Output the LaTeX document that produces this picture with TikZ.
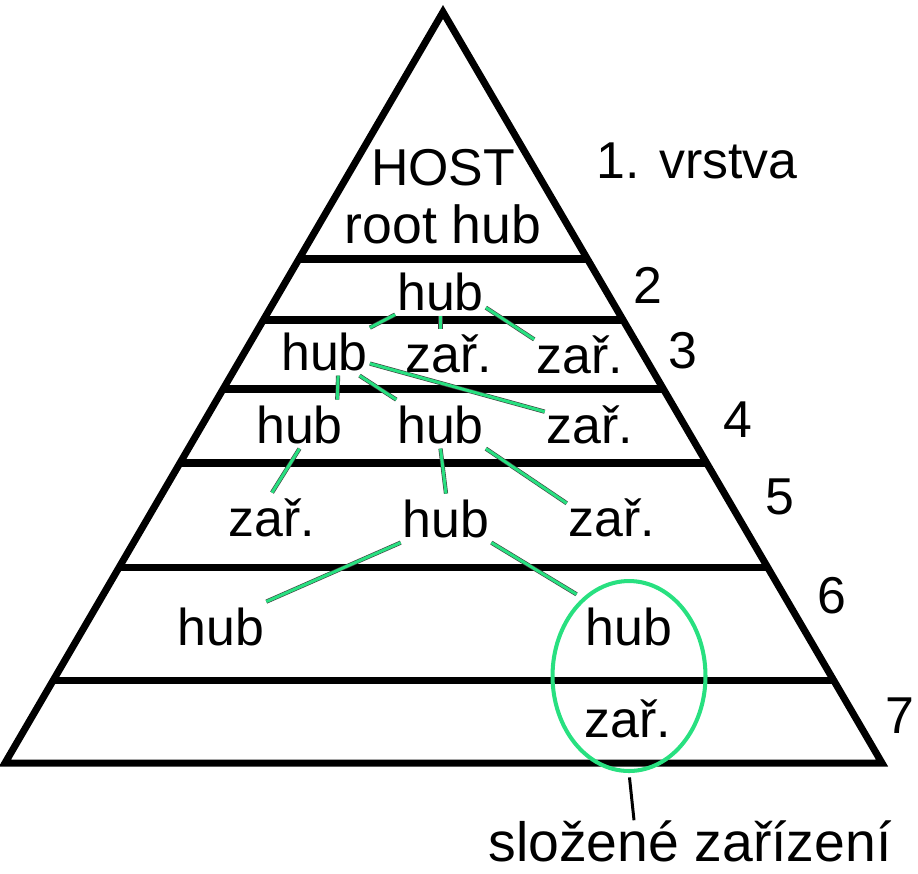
\documentclass[tikz,border=0pt]{standalone}
\usepackage{fontspec}
\setmainfont{Liberation Sans}
\usetikzlibrary{calc}
\usetikzlibrary{shapes.geometric}
\definecolor{linkgreen}{RGB}{40,224,128}
\tikzstyle{lbl} = [anchor=base, inner xsep=1pt, inner ysep=3pt, text height=21.5pt, text depth=0pt, font=\fontsize{29.5}{35}\selectfont]
\tikzstyle{layerline} = [line width=4pt]
\tikzstyle{link} = [draw=black!75, line width=0.35pt, double=linkgreen, double distance=1.7pt]
\tikzstyle{combonode} = [draw=linkgreen, line width=2.3pt, ellipse, minimum width=3.06cm, minimum height=3.8cm]
\tikzstyle{pointer} = [line width=1.7pt, shorten <=2.5pt]

\begin{document}
\begin{tikzpicture}[x=0.02cm, y=-0.02cm]
  \useasboundingbox (0,0) rectangle (918,873);

  % pyramid
  \coordinate (apex) at (443,12);
  \coordinate (bl) at (5,763);
  \coordinate (br) at (882,763);
  \draw[layerline] (apex) -- (bl) -- (br) -- cycle;
  \foreach \y in {259,320,389,463,567,680} {
    \pgfmathsetmacro{\tpos}{(\y-12)/751}
    \draw[layerline] ($(apex)!\tpos!(bl)$) -- ($(apex)!\tpos!(br)$);
  }

  % layer numbers
  \node[lbl] (n1) at (697,178) {1. vrstva};
  \node[lbl] (n2) at (648,303) {2};
  \node[lbl] (n3) at (683,368) {3};
  \node[lbl] (n4) at (738,437) {4};
  \node[lbl] (n5) at (780,514) {5};
  \node[lbl] (n6) at (832,613) {6};
  \node[lbl] (n7) at (900,733) {7};

  % devices
  \node[lbl] (host) at (443,185) {HOST};
  \node[lbl, font=\fontsize{30.5}{35}\selectfont] (root) at (443,243) {root hub};
  \node[lbl] (h2) at (440.5,310) {hub};
  \node[lbl] (h3a) at (324.5,370) {hub};
  \node[lbl] (z3b) at (448.5,372) {zař.};
  \node[lbl] (z3c) at (579.5,373) {zař.};
  \node[lbl] (h4a) at (299.5,443) {hub};
  \node[lbl] (h4b) at (440.5,443) {hub};
  \node[lbl] (z4c) at (590,443) {zař.};
  \node[lbl] (z5a) at (272,536) {zař.};
  \node[lbl] (h5b) at (446,537) {hub};
  \node[lbl] (z5c) at (612,536) {zař.};
  \node[lbl] (h6a) at (221,645) {hub};
  \node[lbl] (h6b) at (629,645) {hub};
  \node[lbl] (z7) at (628,737) {zař.};

  \node[combonode] (combo) at (629,676) {};
  \node[lbl, inner ysep=0.5pt, text height=22.5pt, font=\fontsize{31.5}{36}\selectfont] (note) at (690,861) {složené zařízení};

  \draw[link] (h2) -- (h3a);
  \draw[link] (h2.south) -- (h2.south |- z3b.north);
  \draw[link] (h2.-20) -- (z3c.162);
  \draw[link] (h3a.-61) -- (h4a.33);
  \draw[link] (h3a.-35) -- (h4b.151);
  \draw[link] (h3a) -- (z4c);
  \draw[link] (h4a.south) -- (z5a.north);
  \draw[link] (h4b.south) -- (h5b.north);
  \draw[link] (h4b.south east) -- (z5c.163);
  \draw[link] (h5b.south west) -- (h6a.north east);
  \draw[link, shorten >=8pt] (h5b.south east) -- (h6b);

  \draw[pointer] (combo.south) -- ([xshift=-1.12cm]note.north);
\end{tikzpicture}
\end{document}
